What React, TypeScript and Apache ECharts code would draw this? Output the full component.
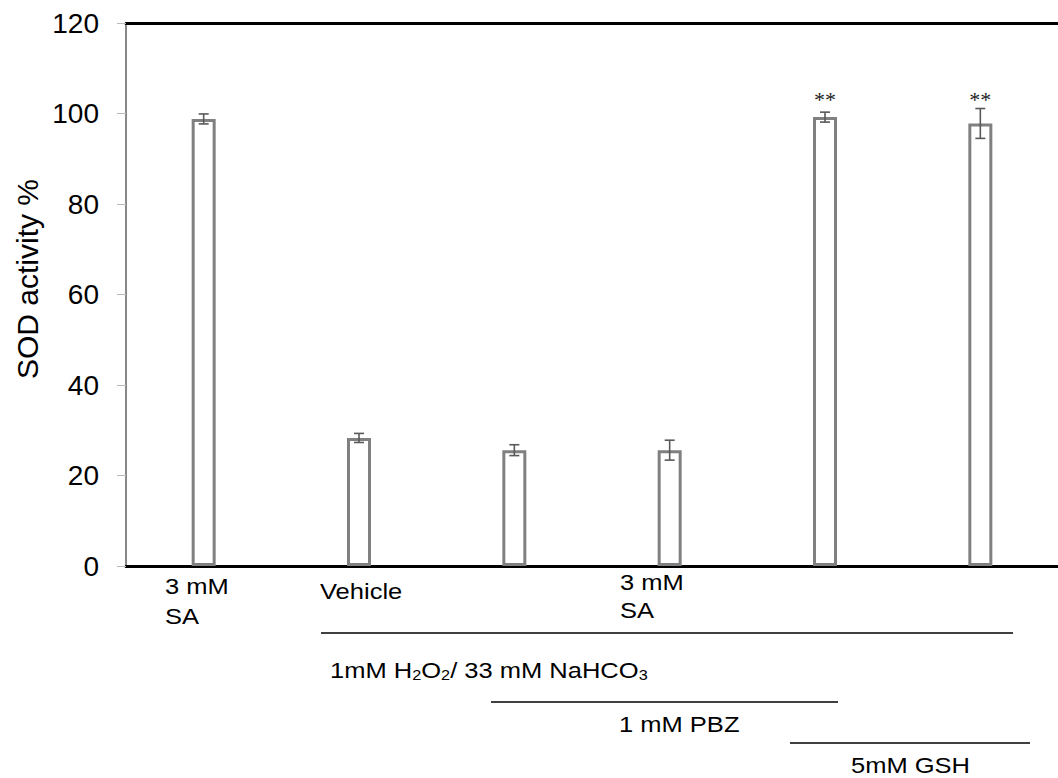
import React, { useEffect, useRef } from "react";
import * as echarts from "echarts";

const categories = ["SA", "Vehicle", "PBZ", "PBZ+SA", "GSH", "GSH+SA"];
const values = [98.8, 28.3, 25.6, 25.6, 99.2, 97.8];
const errors = [1.1, 1.0, 1.2, 2.2, 1.1, 3.3];
const stars = ["", "", "", "", "**", "**"];
const yTicks = { min: 0, max: 120, interval: 20 };
const yAxisTitle = "SOD activity %";

export default function App() {
  const ref = useRef<HTMLDivElement>(null);
  useEffect(() => {
    if (!ref.current) return;
    const chart = echarts.init(ref.current, undefined, { renderer: "svg" });
    const errData = categories.map((c, i) => [i, values[i] - errors[i], values[i] + errors[i], stars[i]]);
    const font = "Liberation Sans, Arial, sans-serif";
    const sx = 1.16;
    const txt = (x: number, y: number, text: string, extra: any = {}) => ({
      type: "text",
      x,
      y,
      scaleX: sx,
      style: {
        text,
        fontSize: 22,
        fontFamily: font,
        fill: "#000",
        align: "left",
        verticalAlign: "middle",
        ...extra,
      },
    });
    chart.setOption({
      animation: false,
      backgroundColor: "#fff",
      grid: { left: 126, right: -14, top: 23, bottom: 212 },
      xAxis: [
        {
          type: "category",
          data: categories,
          position: "bottom",
          axisLine: { lineStyle: { color: "#000", width: 3 } },
          axisTick: { show: false },
          axisLabel: { show: false },
        },
        {
          type: "category",
          data: categories,
          position: "top",
          axisLine: { lineStyle: { color: "#000", width: 3 } },
          axisTick: { show: false },
          axisLabel: { show: false },
        },
      ],
      yAxis: {
        type: "value",
        min: yTicks.min,
        max: yTicks.max,
        interval: yTicks.interval,
        axisLine: { show: true, lineStyle: { color: "#888", width: 2 } },
        axisTick: { show: true, length: 9, lineStyle: { color: "#bbb", width: 1 } },
        axisLabel: { fontSize: 28, color: "#000", fontFamily: font, margin: 27 },
        splitLine: { show: false },
      },
      series: [
        {
          type: "bar",
          data: values,
          barWidth: 24,
          itemStyle: { color: "#fff", borderColor: "#808080", borderWidth: 3 },
        },
        {
          type: "custom",
          data: errData,
          z: 10,
          renderItem: (params: any, api: any) => {
            const i = api.value(0);
            const lo = api.coord([i, api.value(1)]);
            const hi = api.coord([i, api.value(2)]);
            const star = errData[params.dataIndex][3] as string;
            const w = 5;
            const st = { stroke: "#595959", lineWidth: 1.6 };
            const children: any[] = [
              { type: "line", shape: { x1: hi[0], y1: hi[1], x2: lo[0], y2: lo[1] }, style: st },
              { type: "line", shape: { x1: hi[0] - w, y1: hi[1], x2: hi[0] + w, y2: hi[1] }, style: st },
              { type: "line", shape: { x1: lo[0] - w, y1: lo[1], x2: lo[0] + w, y2: lo[1] }, style: st },
            ];
            if (star) {
              children.push({
                type: "text",
                x: hi[0],
                y: 99,
                style: {
                  text: star,
                  fontSize: 22,
                  fontFamily: "Liberation Serif, serif",
                  fill: "#222",
                  align: "center",
                  verticalAlign: "middle",
                },
              });
            }
            return { type: "group", children };
          },
        },
      ],
      graphic: [
        {
          type: "text",
          x: 27,
          y: 279,
          rotation: Math.PI / 2,
          style: {
            text: yAxisTitle,
            fontSize: 30,
            fontFamily: font,
            fill: "#000",
            align: "center",
            verticalAlign: "middle",
          },
        },
        txt(165, 601, "3 mM\nSA", { lineHeight: 30 }),
        txt(320, 591, "Vehicle"),
        txt(620, 596, "3 mM\nSA", { lineHeight: 28 }),
        { type: "line", shape: { x1: 321, y1: 633, x2: 1013, y2: 633 }, style: { stroke: "#000", lineWidth: 1.5 } },
        txt(330, 670, "1mM H{sub|2}O{sub|2}/ 33 mM NaHCO{sub|3}", {
          rich: { sub: { fontSize: 14, fontFamily: font, fill: "#000", padding: [10, 0, 0, 0] } },
        }),
        { type: "line", shape: { x1: 491, y1: 702, x2: 838, y2: 702 }, style: { stroke: "#000", lineWidth: 1.5 } },
        txt(619, 724, "1 mM PBZ"),
        { type: "line", shape: { x1: 790, y1: 743, x2: 1030, y2: 743 }, style: { stroke: "#000", lineWidth: 1.5 } },
        txt(851, 765, "5mM GSH"),
      ],
    });
    return () => chart.dispose();
  }, []);
  return <div ref={ref} style={{ position: "fixed", left: 0, top: 0, width: 1058, height: 778 }} />;
}
